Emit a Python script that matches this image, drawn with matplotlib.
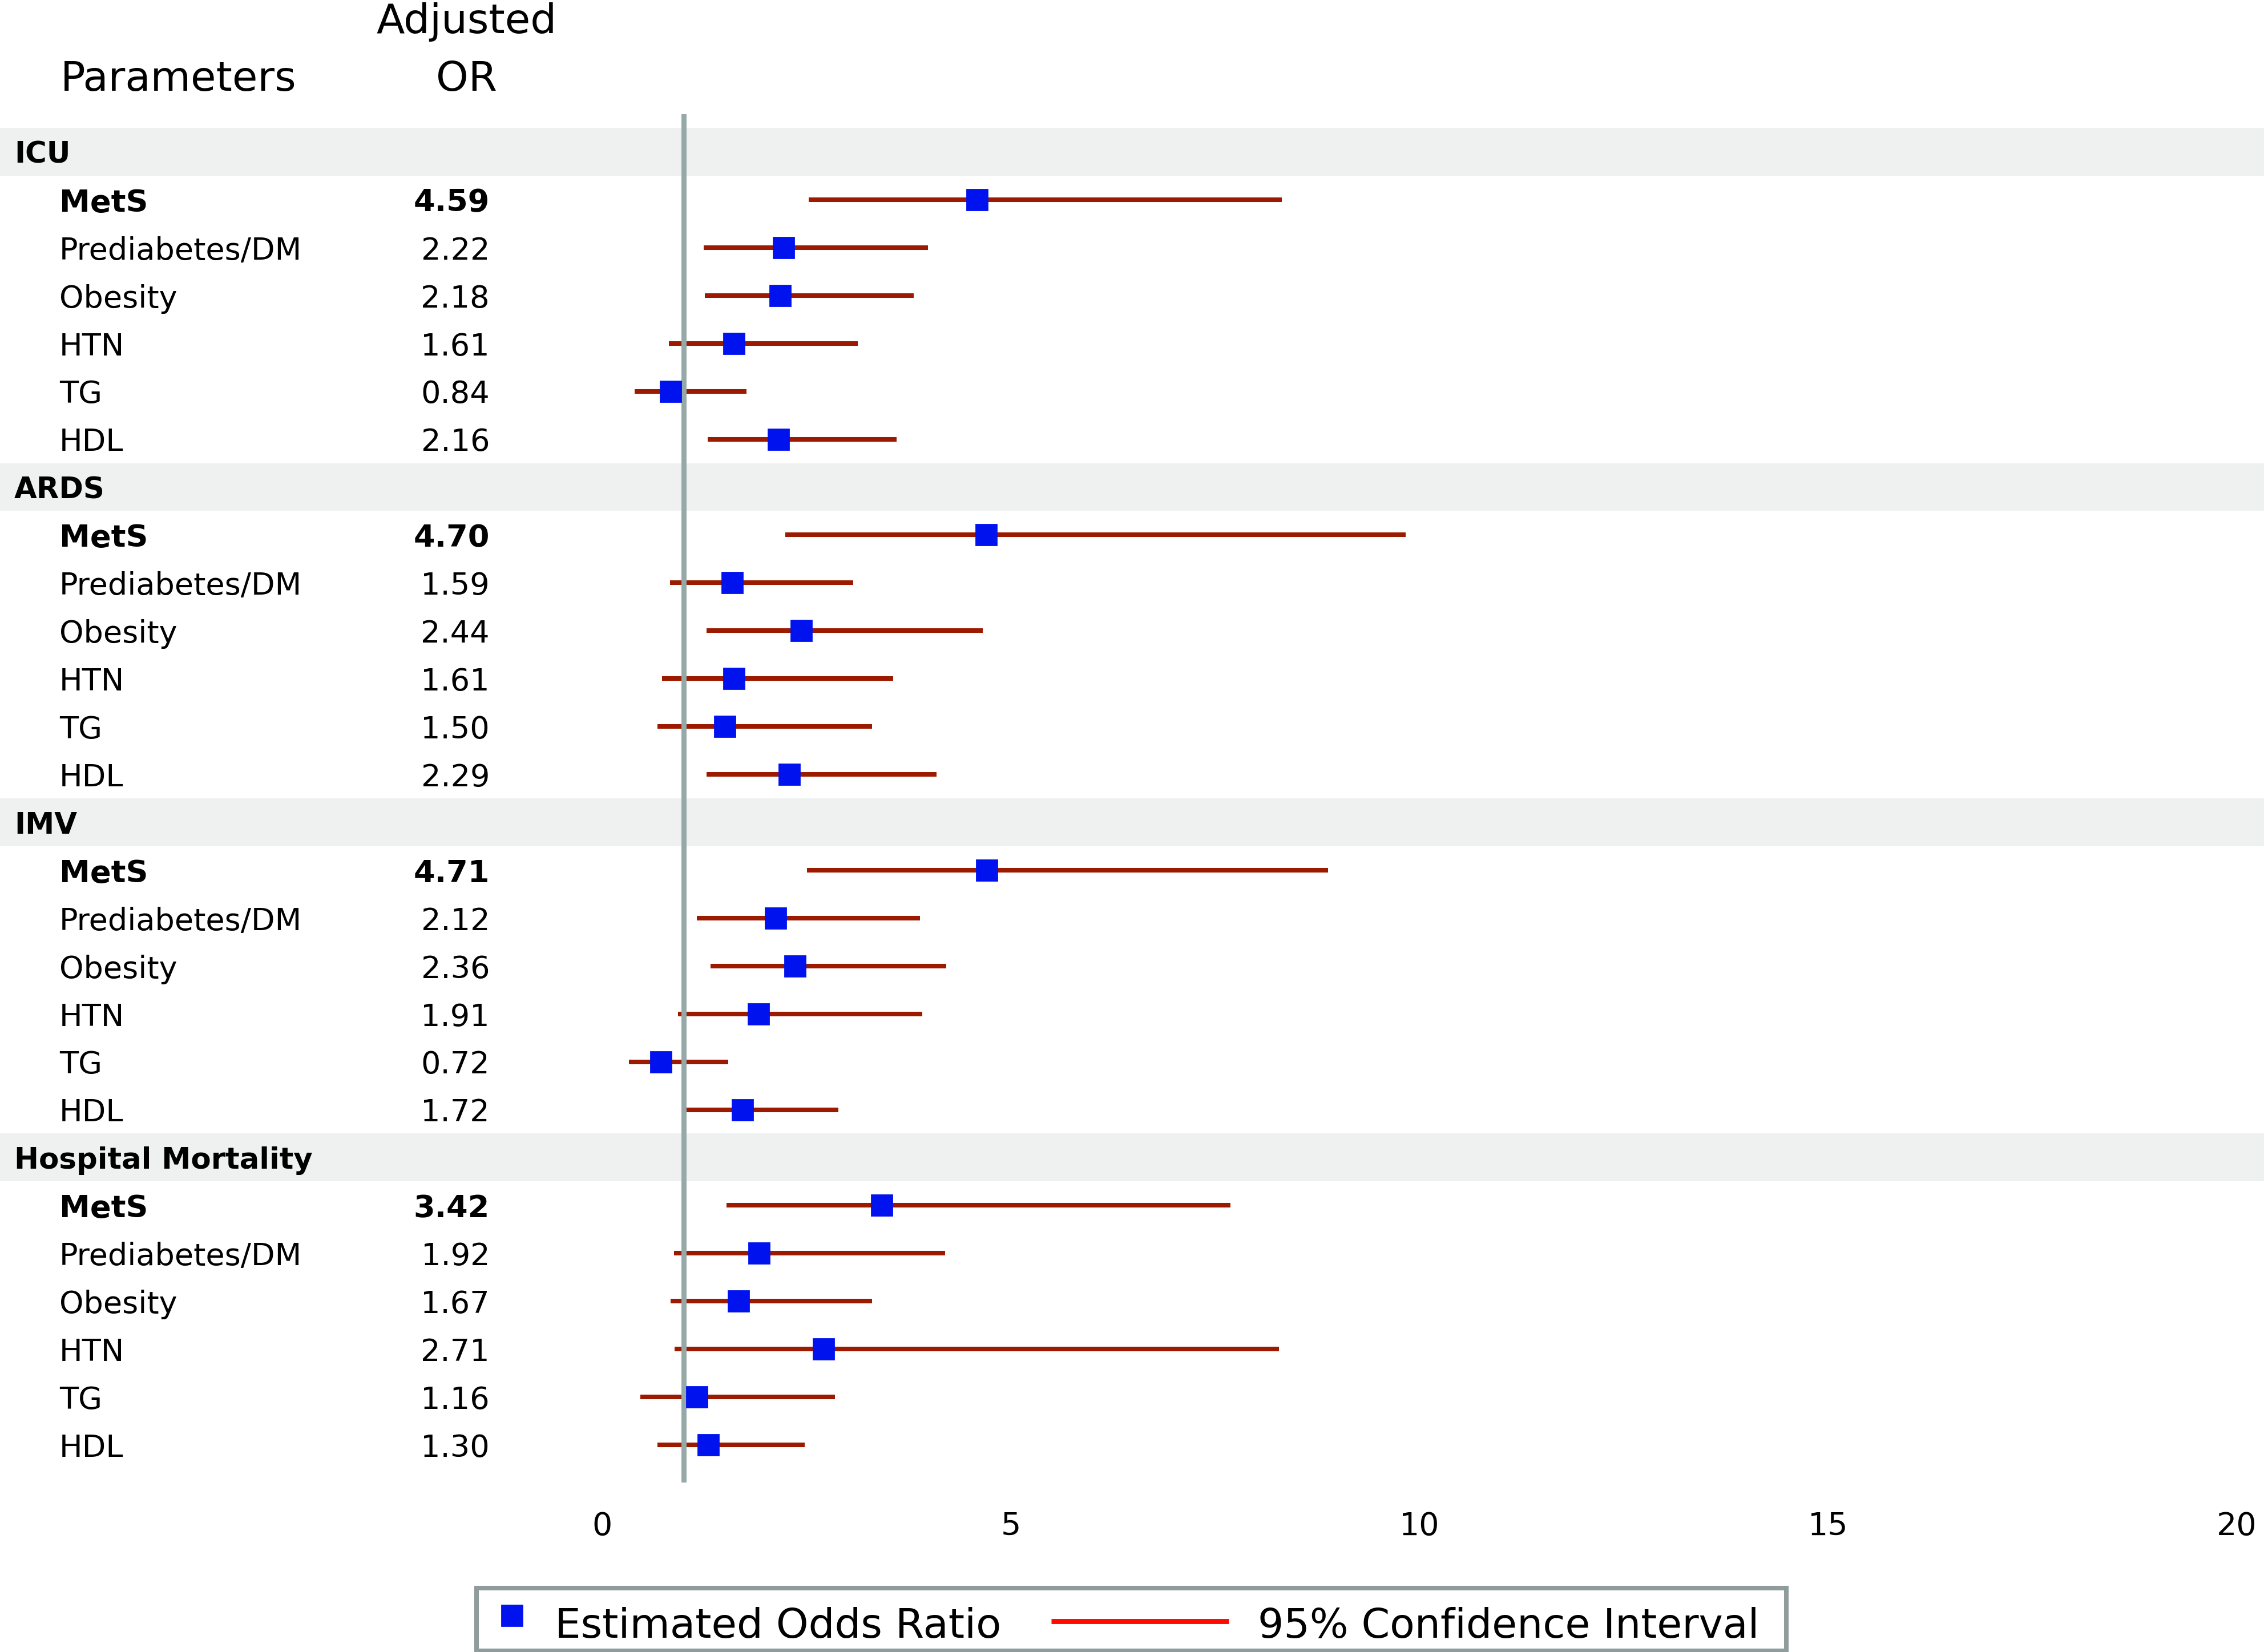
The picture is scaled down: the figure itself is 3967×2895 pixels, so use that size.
import numpy as np
from matplotlib import pyplot as plt
from matplotlib.lines import Line2D
from matplotlib.patches import Rectangle

# =============================================================================
# Data
# =============================================================================
groups = ['ICU', 'ARDS', 'IMV', 'Hospital Mortality']
params = ['MetS', 'Prediabetes/DM', 'Obesity', 'HTN', 'TG', 'HDL']

odds = [[4.59, 2.22, 2.18, 1.61, 0.84, 2.16],
        [4.70, 1.59, 2.44, 1.61, 1.50, 2.29],
        [4.71, 2.12, 2.36, 1.91, 0.72, 1.72],
        [3.42, 1.92, 1.67, 2.71, 1.16, 1.30]]

ci_low = [[2.53, 1.24, 1.26, 0.82, 0.40, 1.29],
          [2.24, 0.83, 1.28, 0.73, 0.68, 1.28],
          [2.51, 1.16, 1.33, 0.93, 0.33, 1.03],
          [1.52, 0.88, 0.84, 0.89, 0.47, 0.68]]

ci_high = [[8.32, 3.99, 3.81, 3.13, 1.77, 3.60],
           [9.83, 3.07, 4.66, 3.56, 3.30, 4.09],
           [8.88, 3.89, 4.21, 3.92, 1.54, 2.89],
           [7.69, 4.20, 3.30, 8.28, 2.85, 2.48]]

xticks = [0, 5, 10, 15, 20]

# colours
band_col = '#eff1f0'
ref_col = '#95a9a8'
ci_col = '#9c1a00'
pt_col = '#0012ee'

W, H = 3967, 2895
fig = plt.figure(figsize=(W / 200, H / 200), dpi=200)
ax = fig.add_axes([0, 1 - 2598 / H, 1, (2598 - 200) / H])

n_rows = len(groups) * (len(params) + 1)
ax.set_ylim(n_rows - 1 + 0.786, -0.786)
ax.set_xlim(-1055 / 143.2, (W - 1055) / 143.2)

tr = ax.get_yaxis_transform()
fs = 19.5
dy = 0.07   # text sits a touch below the markers

# rows
#------------------------------------------------------------------------------
for g, name in enumerate(groups):
    r0 = g * (len(params) + 1)
    ax.axhspan(r0 - 0.5, r0 + 0.5, color=band_col, lw=0, zorder=0)
    ax.text(0.0063, r0 + dy, name, transform=tr, fontsize=18.5,
            fontweight='bold', va='center', ha='left')
    rows = r0 + 1 + np.arange(len(params))
    ax.hlines(rows, ci_low[g], ci_high[g], color=ci_col, lw=2.9, zorder=2,
              capstyle='butt')
    ax.plot(odds[g], rows, ls='none', marker='s', ms=13.3, color=pt_col,
            mec=pt_col, zorder=4)
    for j, p in enumerate(params):
        w = 'bold' if p == 'MetS' else 'normal'
        ax.text(0.0262, rows[j] + dy, p, transform=tr, fontsize=fs,
                fontweight=w, va='center', ha='left')
        ax.text(0.2163, rows[j] + dy, '%.2f' % odds[g][j], transform=tr,
                fontsize=fs, fontweight=w, va='center', ha='right')

ax.axvline(1, color=ref_col, lw=3.2, zorder=3)

ax.set_xticks(xticks)
ax.set_xticklabels([str(t) for t in xticks], fontsize=20)
ax.tick_params(axis='x', length=0, pad=18)
ax.set_yticks([])
for s in ax.spines.values():
    s.set_visible(False)

# header
#------------------------------------------------------------------------------
fig.text(106 / W, 1 - 159 / H, 'Parameters', fontsize=26, ha='left',
         va='baseline')
fig.text(818 / W, 1 - 58 / H, 'Adjusted', fontsize=26, ha='center',
         va='baseline')
fig.text(818 / W, 1 - 159 / H, 'OR', fontsize=26, ha='center', va='baseline')

# legend (drawn by hand to match the layout)
#------------------------------------------------------------------------------
fig.add_artist(Rectangle((835 / W, 2 / H), (3130 - 835) / W, (2893 - 2783) / H,
                         transform=fig.transFigure, facecolor='white',
                         edgecolor='#8f9c9b', lw=2.9))
fig.add_artist(Line2D([897 / W], [1 - 2831 / H], transform=fig.transFigure,
                      marker='s', ms=13.3, color=pt_col, ls='none'))
fig.text(972 / W, 1 - 2870 / H, 'Estimated Odds Ratio', fontsize=26,
         ha='left', va='baseline')
fig.add_artist(Line2D([1842 / W, 2153 / W], [1 - 2841 / H] * 2,
                      transform=fig.transFigure, color='#ff0a00', lw=3.2,
                      solid_capstyle='butt'))
fig.text(2204 / W, 1 - 2870 / H, '95% Confidence Interval', fontsize=25.7,
         ha='left', va='baseline')

fig.savefig('out.png', dpi=200)
